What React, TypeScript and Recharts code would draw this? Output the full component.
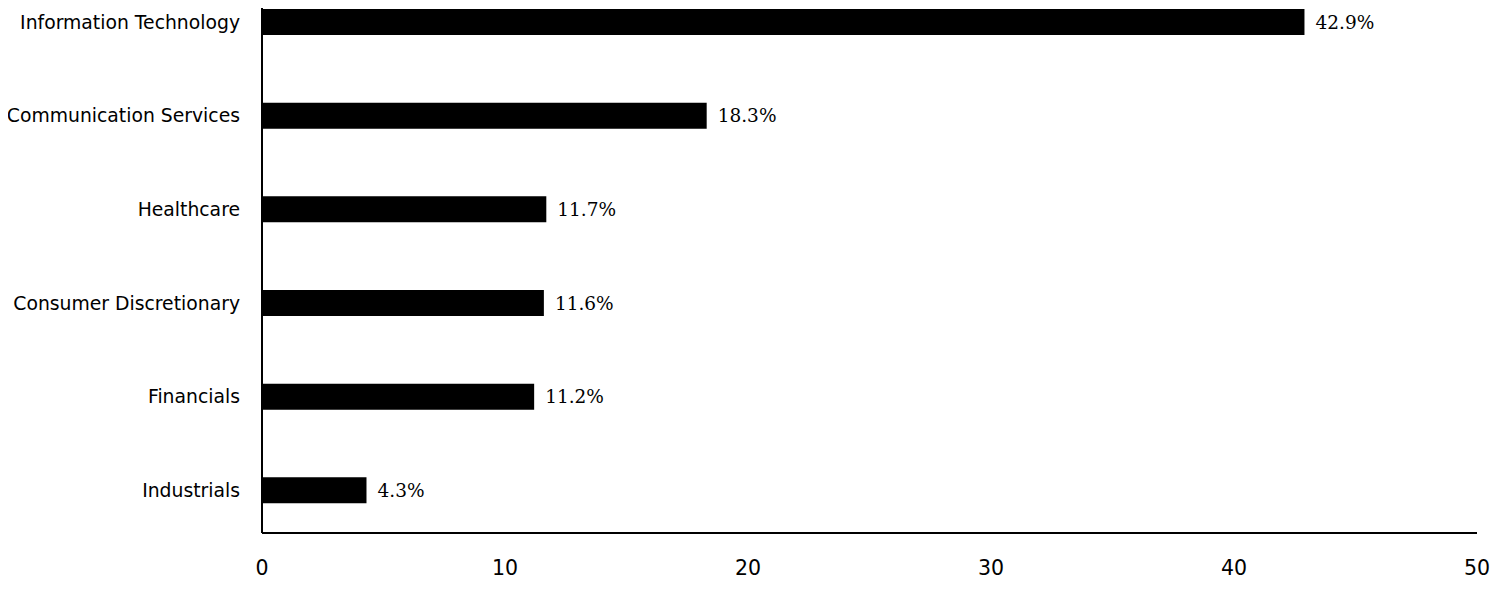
import React from "react";
import { BarChart, Bar, XAxis, YAxis, LabelList } from "recharts";

const categories = [
  "Information Technology",
  "Communication Services",
  "Healthcare",
  "Consumer Discretionary",
  "Financials",
  "Industrials",
];
const weights = [42.9, 18.3, 11.7, 11.6, 11.2, 4.3];
const xTicks = [0, 10, 20, 30, 40, 50];

const data = categories.map((name, i) => ({ name, value: weights[i] }));

const sansFont = "'DejaVu Sans', Verdana, sans-serif";
const serifFont = "'DejaVu Serif', Georgia, serif";

export default function App() {
  return (
    <div style={{ marginLeft: -8, width: 1504 }}>
      <BarChart
        width={1504}
        height={580}
        data={data}
        layout="vertical"
        margin={{ top: 0, right: 27, bottom: 0, left: 0 }}
      >
        <XAxis
          type="number"
          domain={[0, 50]}
          ticks={xTicks}
          height={55}
          axisLine={{ stroke: "#000", strokeWidth: 2 }}
          tickLine={false}
          tickSize={0}
          tickMargin={27}
          tick={{ fill: "#000", fontSize: 20.5, fontFamily: sansFont }}
          interval={0}
        />
        <YAxis
          type="category"
          dataKey="name"
          width={262}
          padding={{ top: -33, bottom: -4 }}
          axisLine={{ stroke: "#000", strokeWidth: 2 }}
          tickLine={false}
          tickSize={0}
          tickMargin={22}
          tick={{ fill: "#000", fontSize: 18.8, fontFamily: sansFont }}
          interval={0}
        />
        <Bar dataKey="value" fill="#000" barSize={26} isAnimationActive={false}>
          <LabelList
            dataKey="value"
            position="right"
            offset={11}
            fill="#000"
            fontSize={18.5}
            fontFamily={serifFont}
            formatter={(v: number) => `${v.toFixed(1)}%`}
          />
        </Bar>
      </BarChart>
    </div>
  );
}
